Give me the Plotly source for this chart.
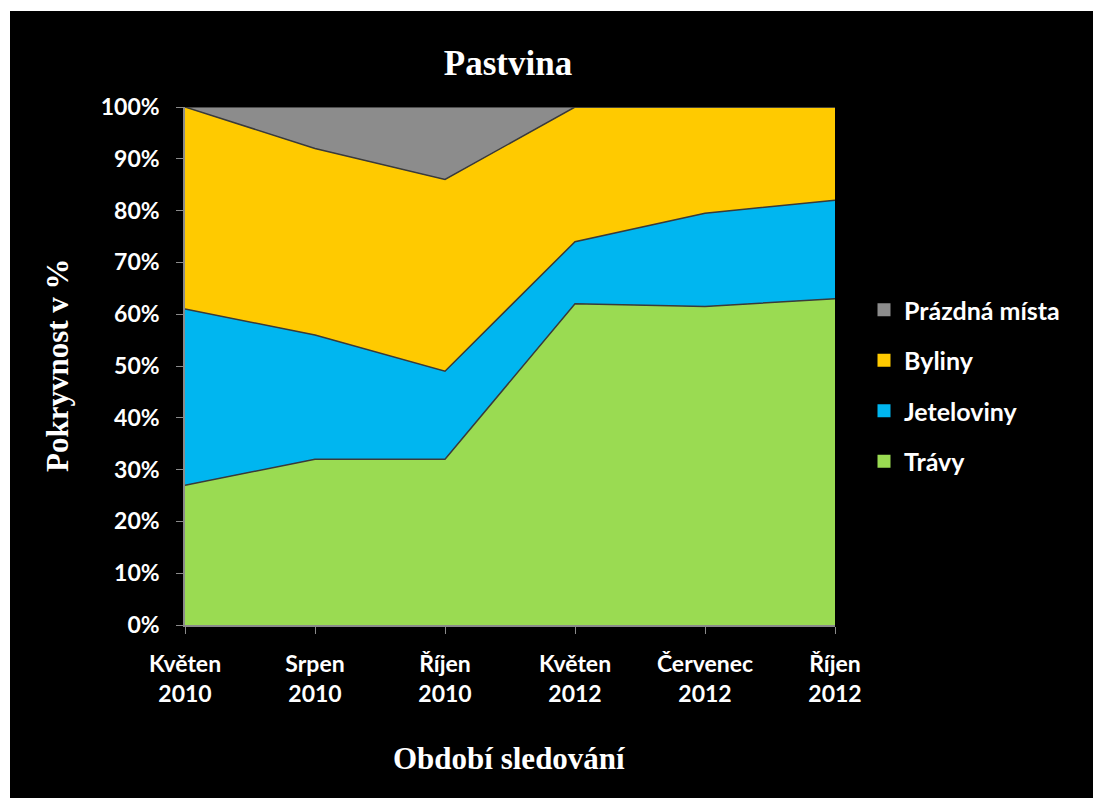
import plotly.graph_objects as go

categories = ["Květen<br>2010", "Srpen<br>2010", "Říjen<br>2010", "Květen<br>2012", "Červenec<br>2012", "Říjen<br>2012"]
travy = [27, 32, 32, 62, 61.5, 63]
jeteloviny = [34, 24, 17, 12, 18, 19]
byliny = [39, 36, 37, 26, 20.5, 18]
prazdna = [0, 8, 14, 0, 0, 0]

series = [
    ("Trávy", travy, "#9ADB52"),
    ("Jeteloviny", jeteloviny, "#00B6F0"),
    ("Byliny", byliny, "#FFCA00"),
    ("Prázdná místa", prazdna, "#8C8C8C"),
]

fig = go.Figure()
for name, vals, col in series:
    fig.add_trace(go.Scatter(
        x=categories, y=vals, name=name, mode="lines",
        stackgroup="one", fillcolor=col, showlegend=False,
        line=dict(color="#3a3a3a", width=1.5),
    ))
# legend entries (square swatches), top entry = top layer
for name, vals, col in reversed(series):
    fig.add_trace(go.Scatter(
        x=[None], y=[None], name=name, mode="markers", legendgroup=name,
        marker=dict(symbol="square", size=13, color=col),
    ))

W, H = 1093, 798
L, R, T, B = 185, 835, 107, 625
PW, PH = R - L, B - T

def px(x):
    return (x - L) / PW

def py(y):
    return (B - y) / PH

fig.update_layout(
    width=W, height=H,
    margin=dict(l=L, r=W - R, t=T, b=H - B, pad=0),
    paper_bgcolor="white", plot_bgcolor="black",
    showlegend=True,
    title=dict(text="<b>Pastvina</b>", x=508 / W, xanchor="center", y=1 - 63 / H, yanchor="middle",
               font=dict(family="Liberation Serif", size=35, color="white")),
    legend=dict(x=px(864), y=py(287), xanchor="left", yanchor="top", traceorder="grouped",
                font=dict(family="Lato", size=25, color="white", weight="bold"),
                itemwidth=30, tracegroupgap=15, bgcolor="rgba(0,0,0,0)"),
    xaxis=dict(type="category", range=[0, 5], showgrid=False, showline=True, linecolor="#8a8a8a",
               linewidth=1.5, ticks="outside", ticklen=7, tickcolor="#8a8a8a",
               ticklabelstandoff=11,
               tickfont=dict(family="Lato", size=23, color="white", weight="bold")),
    yaxis=dict(range=[0, 100], dtick=10, ticksuffix="%", showgrid=False, showline=True,
               linecolor="#8a8a8a", linewidth=1.5, ticks="outside", ticklen=7, tickcolor="#8a8a8a",
               ticklabelstandoff=12,
               tickfont=dict(family="Lato", size=23, color="white", weight="bold")),
    annotations=[
        dict(text="<b>Období sledování</b>", xref="paper", yref="paper", x=px(509), y=py(758),
             xanchor="center", yanchor="middle", showarrow=False,
             font=dict(family="Liberation Serif", size=31, color="white")),
        dict(text="<b>Pokryvnost v %</b>", xref="paper", yref="paper", x=px(57), y=py(365),
             xanchor="center", yanchor="middle", showarrow=False, textangle=-90,
             font=dict(family="Liberation Serif", size=31, color="white")),
    ],
)
fig.add_shape(type="rect", xref="paper", yref="paper", layer="below",
              x0=px(10), x1=px(W + 20), y0=py(H + 20), y1=py(11),
              fillcolor="black", line=dict(width=0))

fig.write_html("out.html", config={"displayModeBar": False},
               post_script="document.body.style.margin='0px';document.body.style.background='black';")
